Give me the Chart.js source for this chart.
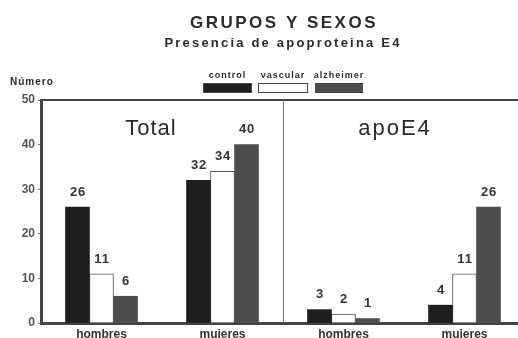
<!DOCTYPE html>
<html>
<head>
<meta charset="utf-8">
<script src="https://cdn.jsdelivr.net/npm/chart.js@4.4.1/dist/chart.umd.min.js"></script>
<style>
  html, body { margin: 0; padding: 0; background: #fff; overflow: hidden; }
  #wrap { width: 540px; height: 338px; }
</style>
</head>
<body>
<div id="wrap"><canvas id="apoChart"></canvas></div>
<script>
'use strict'

const categories = ['hombres', 'mujeres', 'hombres', 'mujeres'];
const seriesNames = ['control', 'vascular', 'alzheimer'];
const controlValues = [26, 32, 3, 4];
const vascularValues = [11, 34, 2, 11];
const alzheimerValues = [6, 40, 1, 26];
const yTicks = [0, 10, 20, 30, 40, 50];

const FONT = '"Liberation Sans", Arial, sans-serif';

// titles, legend, panel names, frame and value labels
const decorPlugin = {
    id: 'decor',
    afterDraw(chart) {
        const ctx = chart.ctx;
        const area = chart.chartArea;
        const x = chart.scales.x;
        ctx.save();

        ctx.fillStyle = '#2a2a2a';
        ctx.textAlign = 'center';
        ctx.textBaseline = 'middle';
        ctx.font = 'bold 17px ' + FONT;
        ctx.letterSpacing = '2.5px';
        ctx.fillText('GRUPOS Y SEXOS', 284, 23);
        ctx.font = 'bold 13px ' + FONT;
        ctx.letterSpacing = '2.2px';
        ctx.fillText('Presencia de apoproteina E4', 283, 43);

        ctx.textAlign = 'left';
        ctx.font = 'bold 10px ' + FONT;
        ctx.letterSpacing = '1px';
        ctx.fillText('Número', 10, 82);

        // legend: label above box
        const legendBoxes = [[203, 49], [258, 50], [315, 48]];
        chart.data.datasets.forEach((ds, i) => {
            const [bx, bw] = legendBoxes[i];
            ctx.fillStyle = ds.backgroundColor;
            ctx.fillRect(bx, 83, bw, 10);
            ctx.strokeStyle = '#444';
            ctx.lineWidth = 1;
            ctx.strokeRect(bx + 0.5, 83.5, bw - 1, 9);
            ctx.fillStyle = '#2a2a2a';
            ctx.textAlign = 'center';
            ctx.font = 'bold 9px ' + FONT;
            ctx.letterSpacing = '1px';
            ctx.fillText(ds.label, bx + bw / 2, 76);
        });
        ctx.letterSpacing = '0px';

        // frame: top line and panel divider
        ctx.strokeStyle = '#444';
        ctx.lineWidth = 2;
        ctx.beginPath();
        ctx.moveTo(area.left, area.top);
        ctx.lineTo(area.right + 20, area.top);
        ctx.stroke();
        const mid = Math.round((x.getPixelForValue(1) + x.getPixelForValue(2)) / 2) + 0.5;
        ctx.strokeStyle = '#777';
        ctx.lineWidth = 1;
        ctx.beginPath();
        ctx.moveTo(mid, area.top);
        ctx.lineTo(mid, area.bottom);
        ctx.stroke();

        // panel names
        ctx.fillStyle = '#2a2a2a';
        ctx.font = '22px ' + FONT;
        ctx.letterSpacing = '1px';
        ctx.fillText('Total', 151, 129);
        ctx.letterSpacing = '2px';
        ctx.fillText('apoE4', 395, 129);

        // value labels
        ctx.font = 'bold 13px ' + FONT;
        ctx.letterSpacing = '0.8px';
        ctx.fillStyle = '#333';
        chart.data.datasets.forEach((ds, i) => {
            chart.getDatasetMeta(i).data.forEach((bar, j) => {
                ctx.fillText(String(ds.data[j]), bar.x + 0.5, bar.y - 15);
            });
        });
        ctx.restore();
    }
};

new Chart(document.getElementById('apoChart'), {
    type: 'bar',
    data: {
        labels: categories,
        datasets: [
            {
                label: seriesNames[0],
                data: controlValues,
                backgroundColor: '#1e1e1e',
                borderColor: '#1e1e1e',
                borderWidth: 0
            },
            {
                label: seriesNames[1],
                data: vascularValues,
                backgroundColor: '#ffffff',
                borderColor: '#555',
                borderWidth: 1,
                borderSkipped: 'bottom'
            },
            {
                label: seriesNames[2],
                data: alzheimerValues,
                backgroundColor: '#4d4d4d',
                borderColor: '#4d4d4d',
                borderWidth: 0
            }
        ]
    },
    options: {
        responsive: true,
        maintainAspectRatio: false,
        animation: false,
        layout: {
            padding: { top: 100, right: 15, left: 0, bottom: 0 }
        },
        datasets: {
            bar: { barThickness: 24 }
        },
        scales: {
            x: {
                grid: { display: false, drawTicks: false },
                border: { display: true, color: '#444', width: 3 },
                ticks: {
                    color: '#333',
                    font: { family: FONT, size: 12, weight: 'bold' },
                    padding: 4,
                    maxRotation: 0
                },
                afterFit(scale) { scale.height = 15; }
            },
            y: {
                min: 0,
                max: 50,
                afterBuildTicks(scale) {
                    scale.ticks = yTicks.map(v => ({ value: v }));
                },
                grid: { drawOnChartArea: false, drawTicks: true, tickLength: 3, color: '#777' },
                border: { display: true, color: '#444', width: 3 },
                ticks: {
                    color: '#555',
                    font: { family: FONT, size: 12, weight: 'bold' },
                    padding: 3
                },
                afterFit(scale) { scale.width = 41; }
            }
        },
        plugins: {
            legend: { display: false },
            tooltip: { enabled: false }
        }
    },
    plugins: [decorPlugin]
});
</script>
</body>
</html>
